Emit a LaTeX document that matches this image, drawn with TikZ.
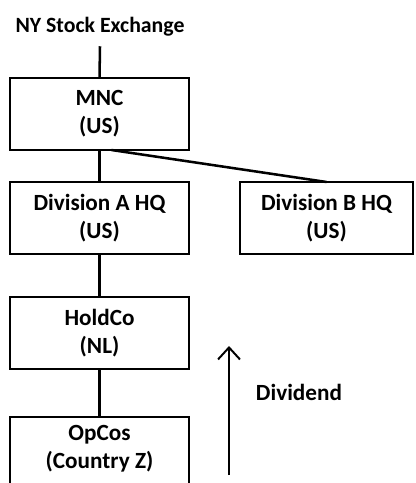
\documentclass[tikz,border=0pt]{standalone}
\usepackage{fontspec}
\setmainfont{Carlito}
\usetikzlibrary{arrows.meta,positioning}

\begin{document}
\begin{tikzpicture}[
    node distance=0.8cm,
    entity/.style={rectangle, draw=black, line width=1.8pt, outer sep=0pt, minimum width=4.475cm, minimum height=1.8cm, align=center, font=\bfseries\fontsize{16.5}{20}\selectfont},
    link/.style={line width=1.8pt},
    flow/.style={-{Straight Barb[length=0.3cm, width=0.55cm]}, line width=1.4pt}
]
\useasboundingbox (0,0) rectangle (10.4,-12.075);
\node[font=\bfseries\fontsize{15.5}{18}\selectfont] (nyse) at (2.5,-0.675) {NY Stock Exchange};
\node[entity] (mnc) at (2.4875,-2.85) {MNC\\(US)};
\node[entity, below=0.8cm of mnc] (diva) {Division A HQ\\(US)};
\node[entity, right=1.275cm of diva, minimum width=4.325cm] (divb) {Division B HQ\\(US)};
\node[entity, below=1.075cm of diva] (holdco) {HoldCo\\(NL)};
\node[entity, below=1.2cm of holdco, text depth=0.3cm] (opcos) {OpCos\\(Country Z)};
\draw[link] ([yshift=-0.12cm]nyse.south) -- (mnc.north);
\draw[link] (mnc) -- (diva);
\draw[link] ([xshift=0.3cm]mnc.south) -- (divb.north);
\draw[link] (diva) -- (holdco);
\draw[link] (holdco) -- (opcos);
% dividend flow
\coordinate (flowfoot) at (5.725,-11.875);
\coordinate (flowtip) at (5.725,-8.65);
\draw[flow] (flowfoot) -- (flowtip);
\node[font=\bfseries\fontsize{16.5}{20}\selectfont] (dividend) at (7.475,-9.8) {Dividend};
\end{tikzpicture}
\end{document}
